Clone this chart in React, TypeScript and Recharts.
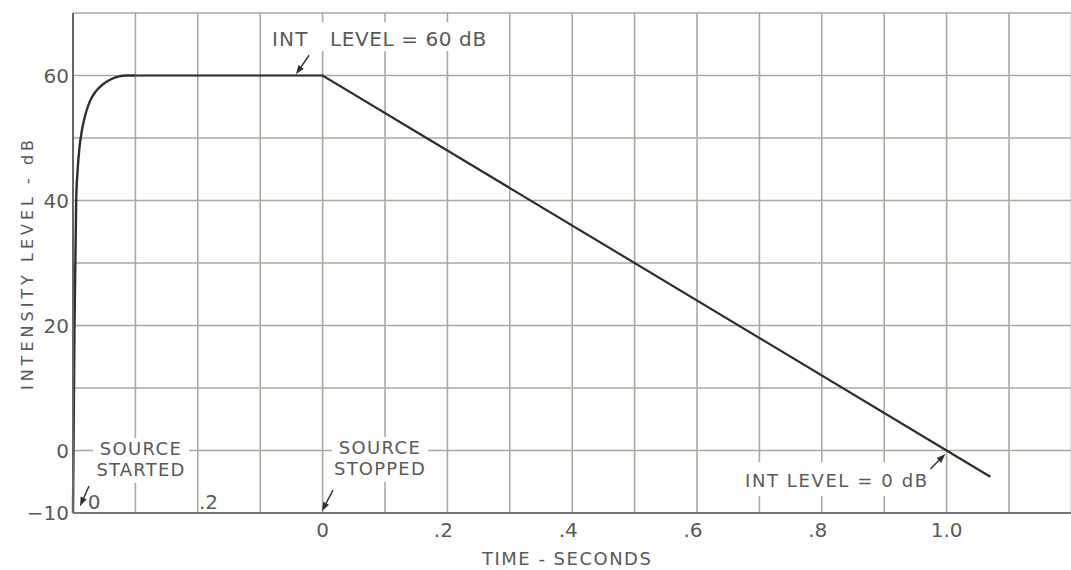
import React from 'react';
import { LineChart, Line, XAxis, YAxis, CartesianGrid, ReferenceDot } from 'recharts';

// elapsed time (s) since the source was started; source stopped at 0.4 s
const riseTime = [0, 0.0024, 0.0051, 0.0072, 0.0104, 0.0144, 0.02, 0.0272, 0.0369, 0.0481, 0.0609, 0.0737, 0.0865, 0.1];
const riseLevel = [-10, 20, 40, 44.5, 48.5, 51.3, 53.8, 55.9, 57.5, 58.6, 59.4, 59.85, 60, 60];
const decayTime = [0.1, 0.4, 1.4, 1.47];
const decayLevel = [60, 60, 0, -4.2];

const gridTimes = [0, 0.1, 0.2, 0.3, 0.4, 0.5, 0.6, 0.7, 0.8, 0.9, 1.0, 1.1, 1.2, 1.3, 1.4, 1.5, 1.6];
const stopTickTimes = [0.4, 0.6, 0.8, 1.0, 1.2, 1.4];
const stopTickLabels = ['0', '.2', '.4', '.6', '.8', '1.0'];

const levelTicks = [-10, 0, 10, 20, 30, 40, 50, 60, 70];
const levelLabelValues = [-10, 0, 20, 40, 60];
const levelLabelTexts = ['\u221210', '0', '20', '40', '60'];

const riseData = riseTime.map((t, i) => ({ t, level: riseLevel[i] }));
const decayData = decayTime.map((t, i) => ({ t, level: decayLevel[i] }));

const FONT = '"DejaVu Sans", sans-serif';
const TEXT = '#5a5a58';
const INK = '#2e2e2e';
const GRID = '#a9ab9f';

const XTick = (props: any) => {
  const { x, y, payload } = props;
  const idx = stopTickTimes.findIndex((v) => Math.abs(v - payload.value) < 1e-6);
  if (idx < 0) return null;
  const label = stopTickLabels[idx];
  return (
    <text x={x} y={y + 16} textAnchor="middle" fontFamily={FONT} fontSize={20} fill={TEXT}
      dx={label.startsWith('.') ? -4 : 0}>
      {label}
    </text>
  );
};

const YTick = (props: any) => {
  const { x, y, payload } = props;
  const idx = levelLabelValues.indexOf(payload.value);
  if (idx < 0) return null;
  return (
    <text x={x + 4} y={y + 7} textAnchor="end" fontFamily={FONT} fontSize={20} fill={TEXT}>
      {levelLabelTexts[idx]}
    </text>
  );
};

const Arrow = ({ cx, cy, dx, dy }: any) => {
  const len = Math.sqrt(dx * dx + dy * dy);
  const ux = dx / len;
  const uy = dy / len;
  const hl = 9;
  const hw = 3.2;
  const bx = cx + ux * hl;
  const by = cy + uy * hl;
  const px = -uy * hw;
  const py = ux * hw;
  return (
    <g>
      <line x1={cx + dx} y1={cy + dy} x2={bx} y2={by} stroke={INK} strokeWidth={1.4} />
      <polygon points={`${cx},${cy} ${bx + px},${by + py} ${bx - px},${by - py}`} fill={INK} />
    </g>
  );
};

const TwoLine = ({ cx, cy, top, bottom }: any) => (
  <g>
    <rect x={cx - 48} y={cy - 17} width={96} height={45} fill="#fff" />
    <text x={cx} y={cy} textAnchor="middle" fontFamily={FONT} fontSize={18} letterSpacing={1.4} fill={TEXT}>{top}</text>
    <text x={cx} y={cy + 21} textAnchor="middle" fontFamily={FONT} fontSize={18} letterSpacing={1.2} fill={TEXT}>{bottom}</text>
  </g>
);

export default function App() {
  return (
    <div style={{ position: 'absolute', left: 0, top: 0, width: 1071, height: 570, overflow: 'hidden', background: '#fff' }}>
      <LineChart width={1080} height={570} margin={{ top: 13, right: 8.6, bottom: 0, left: 8 }}>
        <CartesianGrid stroke={GRID} strokeWidth={1.6} />
        <XAxis
          dataKey="t"
          type="number"
          domain={[0, 1.6]}
          ticks={gridTimes}
          interval={0}
          tickLine={false}
          axisLine={{ stroke: '#777', strokeWidth: 2 }}
          tick={<XTick />}
          height={57}
          allowDuplicatedCategory={false}
          label={{
            content: (p: any) => {
              const vb = p.viewBox;
              return (
                <text x={vb.x + vb.width / 2 - 5} y={vb.y + 52} textAnchor="middle" fontFamily={FONT}
                  fontSize={18} letterSpacing={1.5} fill={TEXT}>
                  TIME - SECONDS
                </text>
              );
            },
          }}
        />
        <YAxis
          dataKey="level"
          type="number"
          domain={[-10, 70]}
          ticks={levelTicks}
          interval={0}
          tickLine={false}
          axisLine={{ stroke: '#666', strokeWidth: 2 }}
          tick={<YTick />}
          width={65}
          label={{
            content: (p: any) => {
              const vb = p.viewBox;
              const x = vb.x + 19;
              const y = vb.y + vb.height / 2;
              return (
                <text x={x} y={y} transform={`rotate(-90 ${x} ${y})`} textAnchor="middle" dominantBaseline="central"
                  fontFamily={FONT} fontSize={16} letterSpacing={4} fill={TEXT}>
                  INTENSITY LEVEL - dB
                </text>
              );
            },
          }}
        />
        <Line data={riseData} type="monotone" dataKey="level" stroke={INK} strokeWidth={2.4} dot={false} isAnimationActive={false} />
        <Line data={decayData} type="linear" dataKey="level" stroke={INK} strokeWidth={2.2} dot={false} isAnimationActive={false} />

        {/* INT LEVEL = 60 dB */}
        <ReferenceDot x={0.3189} y={64.7} r={0} ifOverflow="visible"
          shape={(p: any) => (
            <g>
              <rect x={p.cx - 5} y={p.cy - 24} width={224} height={29} fill="#fff" />
              <text x={p.cx} y={p.cy} fontFamily={FONT} fontSize={20} letterSpacing={1.2} fill={TEXT}>INT</text>
              <text x={p.cx + 58} y={p.cy} fontFamily={FONT} fontSize={20} letterSpacing={0.6} fill={TEXT}>LEVEL = 60 dB</text>
            </g>
          )} />
        <ReferenceDot x={0.3574} y={60.2} r={0} ifOverflow="visible"
          shape={(p: any) => <Arrow cx={p.cx} cy={p.cy} dx={13} dy={-19} />} />

        {/* SOURCE STARTED */}
        <ReferenceDot x={0.109} y={-0.7} r={0} ifOverflow="visible"
          shape={(p: any) => <TwoLine cx={p.cx} cy={p.cy} top="SOURCE" bottom="STARTED" />} />
        <ReferenceDot x={0.0337} y={-9.36} r={0} ifOverflow="visible"
          shape={(p: any) => (
            <text x={p.cx} y={p.cy} textAnchor="middle" fontFamily={FONT} fontSize={20} fill={TEXT}>0</text>
          )} />
        <ReferenceDot x={0.2019} y={-9.36} r={0} ifOverflow="visible"
          shape={(p: any) => (
            <text x={p.cx} y={p.cy} fontFamily={FONT} fontSize={20} fill={TEXT}>.2</text>
          )} />
        <ReferenceDot x={0.0112} y={-8.9} r={0} ifOverflow="visible"
          shape={(p: any) => <Arrow cx={p.cx} cy={p.cy} dx={9} dy={-20} />} />

        {/* SOURCE STOPPED */}
        <ReferenceDot x={0.492} y={-0.56} r={0} ifOverflow="visible"
          shape={(p: any) => <TwoLine cx={p.cx} cy={p.cy} top="SOURCE" bottom="STOPPED" />} />
        <ReferenceDot x={0.399} y={-9.7} r={0} ifOverflow="visible"
          shape={(p: any) => <Arrow cx={p.cx} cy={p.cy} dx={11} dy={-21} />} />

        {/* INT LEVEL = 0 dB */}
        <ReferenceDot x={1.0769} y={-5.84} r={0} ifOverflow="visible"
          shape={(p: any) => (
            <g>
              <rect x={p.cx - 5} y={p.cy - 25} width={192} height={34} fill="#fff" />
              <text x={p.cx} y={p.cy} fontFamily={FONT} fontSize={18} letterSpacing={1.6} fill={TEXT}>INT LEVEL = 0 dB</text>
            </g>
          )} />
        <ReferenceDot x={1.398} y={-0.56} r={0} ifOverflow="visible"
          shape={(p: any) => <Arrow cx={p.cx} cy={p.cy} dx={-15} dy={15} />} />
      </LineChart>
    </div>
  );
}
